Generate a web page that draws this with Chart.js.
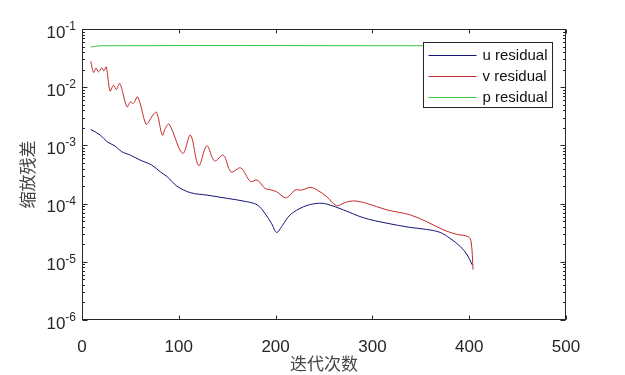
<!DOCTYPE html>
<html>
<head>
<meta charset="utf-8">
<script src="https://cdn.jsdelivr.net/npm/chart.js@4/dist/chart.umd.min.js"></script>
<style>
  html, body { margin: 0; padding: 0; background: #fff; }
</style>
</head>
<body>
<canvas id="chartResidual" width="625" height="375"></canvas>
<script>
// === Datos ===
const uIter = [9, 19, 26, 34, 41, 50, 60, 72, 81, 88, 98, 112, 129, 150, 170, 181, 189, 196, 201, 207,
  215, 229, 243, 253, 270, 291, 315, 339, 356, 370, 380, 391, 398, 403];
const uRes = [1.88e-3, 1.5e-3, 1.15e-3, 9.8e-4, 7.8e-4, 6.8e-4, 5.6e-4, 4.6e-4, 3.5e-4, 2.9e-4,
  2.0e-4, 1.54e-4, 1.4e-4, 1.23e-4, 1.08e-4, 9.5e-5, 6.8e-5, 4.5e-5, 3.2e-5, 4.2e-5,
  6.4e-5, 8.85e-5, 1.01e-4, 9.8e-5, 7.8e-5, 5.7e-5, 4.6e-5, 3.9e-5, 3.6e-5, 3.2e-5,
  2.54e-5, 1.82e-5, 1.31e-5, 8.9e-6];

const vIter = [9, 12, 14.5, 17, 20.5, 22.5, 25, 29, 32.5, 35.5, 39, 46.5, 50, 53, 57.5, 66, 69, 73, 77,
  83, 86, 90, 104, 112, 120.5, 129, 137, 146, 154, 164, 174, 181, 189, 195, 201, 210, 215, 220, 227,
  236, 243, 253, 263, 272, 282, 294, 315, 339, 356, 374, 387, 399, 402, 404];
const vRes = [2.79e-2, 1.79e-2, 2.14e-2, 1.83e-2, 2.14e-2, 1.9e-2, 2.23e-2, 8.6e-3, 1.08e-2, 9.1e-3, 1.16e-2,
  4.6e-3, 5.6e-3, 5.25e-3, 6.8e-3, 2.32e-3, 2.54e-3, 3.3e-3, 3.7e-3, 1.5e-3, 1.96e-3, 2.32e-3,
  7.3e-4, 1.5e-3, 4.5e-4, 9.8e-4, 5.4e-4, 6.8e-4, 3.5e-4, 4.1e-4, 2.4e-4, 2.54e-4,
  1.83e-4, 1.72e-4, 1.6e-4, 1.26e-4, 1.4e-4, 1.71e-4, 1.71e-4, 1.9e-4, 1.71e-4, 1.31e-4,
  9.2e-5, 1.05e-4, 1.11e-4, 1.01e-4, 7.8e-5, 6.4e-5, 4.9e-5, 3.5e-5, 2.97e-5, 2.7e-5, 2.2e-5, 7.3e-6];

const pIter = [9, 19, 404];
const pRes = [0.049, 0.0515, 0.0515];

const seriesLabels = ["u residual", "v residual", "p residual"];
const seriesColors = ["#14147a", "#c42a2a", "#3cc43c"];
const xTicks = [0, 100, 200, 300, 400, 500];
const yExponents = [-6, -5, -4, -3, -2, -1];

const toPoints = (xs, ys) => xs.map((x, i) => ({ x, y: ys[i] }));

// ticks hacia dentro, etiquetas 10^n y leyenda dentro del área (estilo MATLAB)
const matlabAxes = {
  id: "matlabAxes",
  afterDraw(chart) {
    const { ctx, chartArea: a, scales } = chart;
    const L = Math.round(a.left) + 0.5, R = Math.round(a.right) - 0.5;
    const T = Math.round(a.top) + 0.5, B = Math.round(a.bottom) - 0.5;
    ctx.save();
    ctx.strokeStyle = "#262626";
    ctx.lineWidth = 1;
    ctx.beginPath();
    scales.x.ticks.forEach((t) => {
      const px = Math.round(scales.x.getPixelForValue(t.value)) + 0.5;
      ctx.moveTo(px, B); ctx.lineTo(px, B - 4);
      ctx.moveTo(px, T); ctx.lineTo(px, T + 4);
    });
    scales.y.ticks.forEach((t) => {
      const py = Math.round(scales.y.getPixelForValue(t.value)) + 0.5;
      const lg = Math.log10(t.value);
      const len = Math.abs(lg - Math.round(lg)) < 1e-9 ? 5 : 2.5;
      ctx.moveTo(L, py); ctx.lineTo(L + len, py);
      ctx.moveTo(R, py); ctx.lineTo(R - len, py);
    });
    ctx.stroke();
    ctx.strokeRect(L, T, R - L, B - T);

    // etiquetas del eje y
    ctx.fillStyle = "#262626";
    ctx.textBaseline = "alphabetic";
    yExponents.forEach((e) => {
      const py = scales.y.getPixelForValue(Math.pow(10, e));
      ctx.font = "12px 'Liberation Sans', Arial, sans-serif";
      ctx.textAlign = "right";
      const expText = "-" + Math.abs(e);
      const w = ctx.measureText(expText).width;
      ctx.fillText(expText, 76, py + 1);
      ctx.font = "17px 'Liberation Sans', Arial, sans-serif";
      ctx.fillText("10", 76 - w, py + 8.5);
    });

    // leyenda
    const bx = Math.round(a.right - 14) - 129 + 0.5, by = Math.round(a.top + 13) + 0.5;
    ctx.fillStyle = "#fff";
    ctx.fillRect(bx, by, 129, 65);
    ctx.strokeStyle = "#262626";
    ctx.strokeRect(bx, by, 129, 65);
    ctx.font = "15px 'Liberation Sans', Arial, sans-serif";
    ctx.textAlign = "left";
    ctx.textBaseline = "middle";
    chart.data.datasets.forEach((ds, i) => {
      const ry = Math.round(by + 12.5 + i * 21) + 0.5;
      ctx.strokeStyle = ds.borderColor;
      ctx.beginPath();
      ctx.moveTo(bx + 5, ry);
      ctx.lineTo(bx + 53, ry);
      ctx.stroke();
      ctx.fillStyle = "#111";
      ctx.fillText(ds.label, bx + 59, ry);
    });
    ctx.restore();
  },
};

const ctx1 = document.getElementById("chartResidual");
new Chart(ctx1, {
  type: "line",
  data: {
    datasets: [
      { label: seriesLabels[0], data: toPoints(uIter, uRes), borderColor: seriesColors[0] },
      { label: seriesLabels[1], data: toPoints(vIter, vRes), borderColor: seriesColors[1] },
      { label: seriesLabels[2], data: toPoints(pIter, pRes), borderColor: seriesColors[2] },
    ],
  },
  options: {
    responsive: false,
    animation: false,
    layout: { padding: { top: 29, right: 59, left: 0, bottom: 0 } },
    elements: {
      point: { radius: 0 },
      line: { borderWidth: 1, tension: 0.35, fill: false },
    },
    plugins: { legend: { display: false }, tooltip: { enabled: false } },
    scales: {
      x: {
        type: "linear",
        min: 0,
        max: 500,
        afterBuildTicks: (s) => { s.ticks = xTicks.map((v) => ({ value: v })); },
        afterFit: (s) => { s.height = 55; },
        grid: { display: false },
        border: { display: false },
        ticks: {
          padding: 9,
          color: "#262626",
          font: { family: "'Liberation Sans', Arial, sans-serif", size: 17 },
        },
        title: {
          display: true,
          text: "迭代次数",
          color: "#444",
          padding: { top: 0, bottom: 1 },
          font: { family: "'Noto Sans CJK SC', sans-serif", size: 17 },
        },
      },
      y: {
        type: "logarithmic",
        min: 1e-6,
        max: 1e-1,
        afterBuildTicks: (s) => {
          const t = [];
          yExponents.slice(0, -1).forEach((e) => {
            for (let m = 1; m <= 9; m++) t.push({ value: m * Math.pow(10, e) });
          });
          t.push({ value: 1e-1 });
          s.ticks = t;
        },
        afterFit: (s) => { s.width = 82; },
        grid: { display: false },
        border: { display: false },
        ticks: { display: false },
        title: {
          display: true,
          text: "缩放残差",
          color: "#444",
          padding: { top: 17, bottom: 0 },
          font: { family: "'Noto Sans CJK SC', sans-serif", size: 17 },
        },
      },
    },
  },
  plugins: [matlabAxes],
});
</script>
</body>
</html>
